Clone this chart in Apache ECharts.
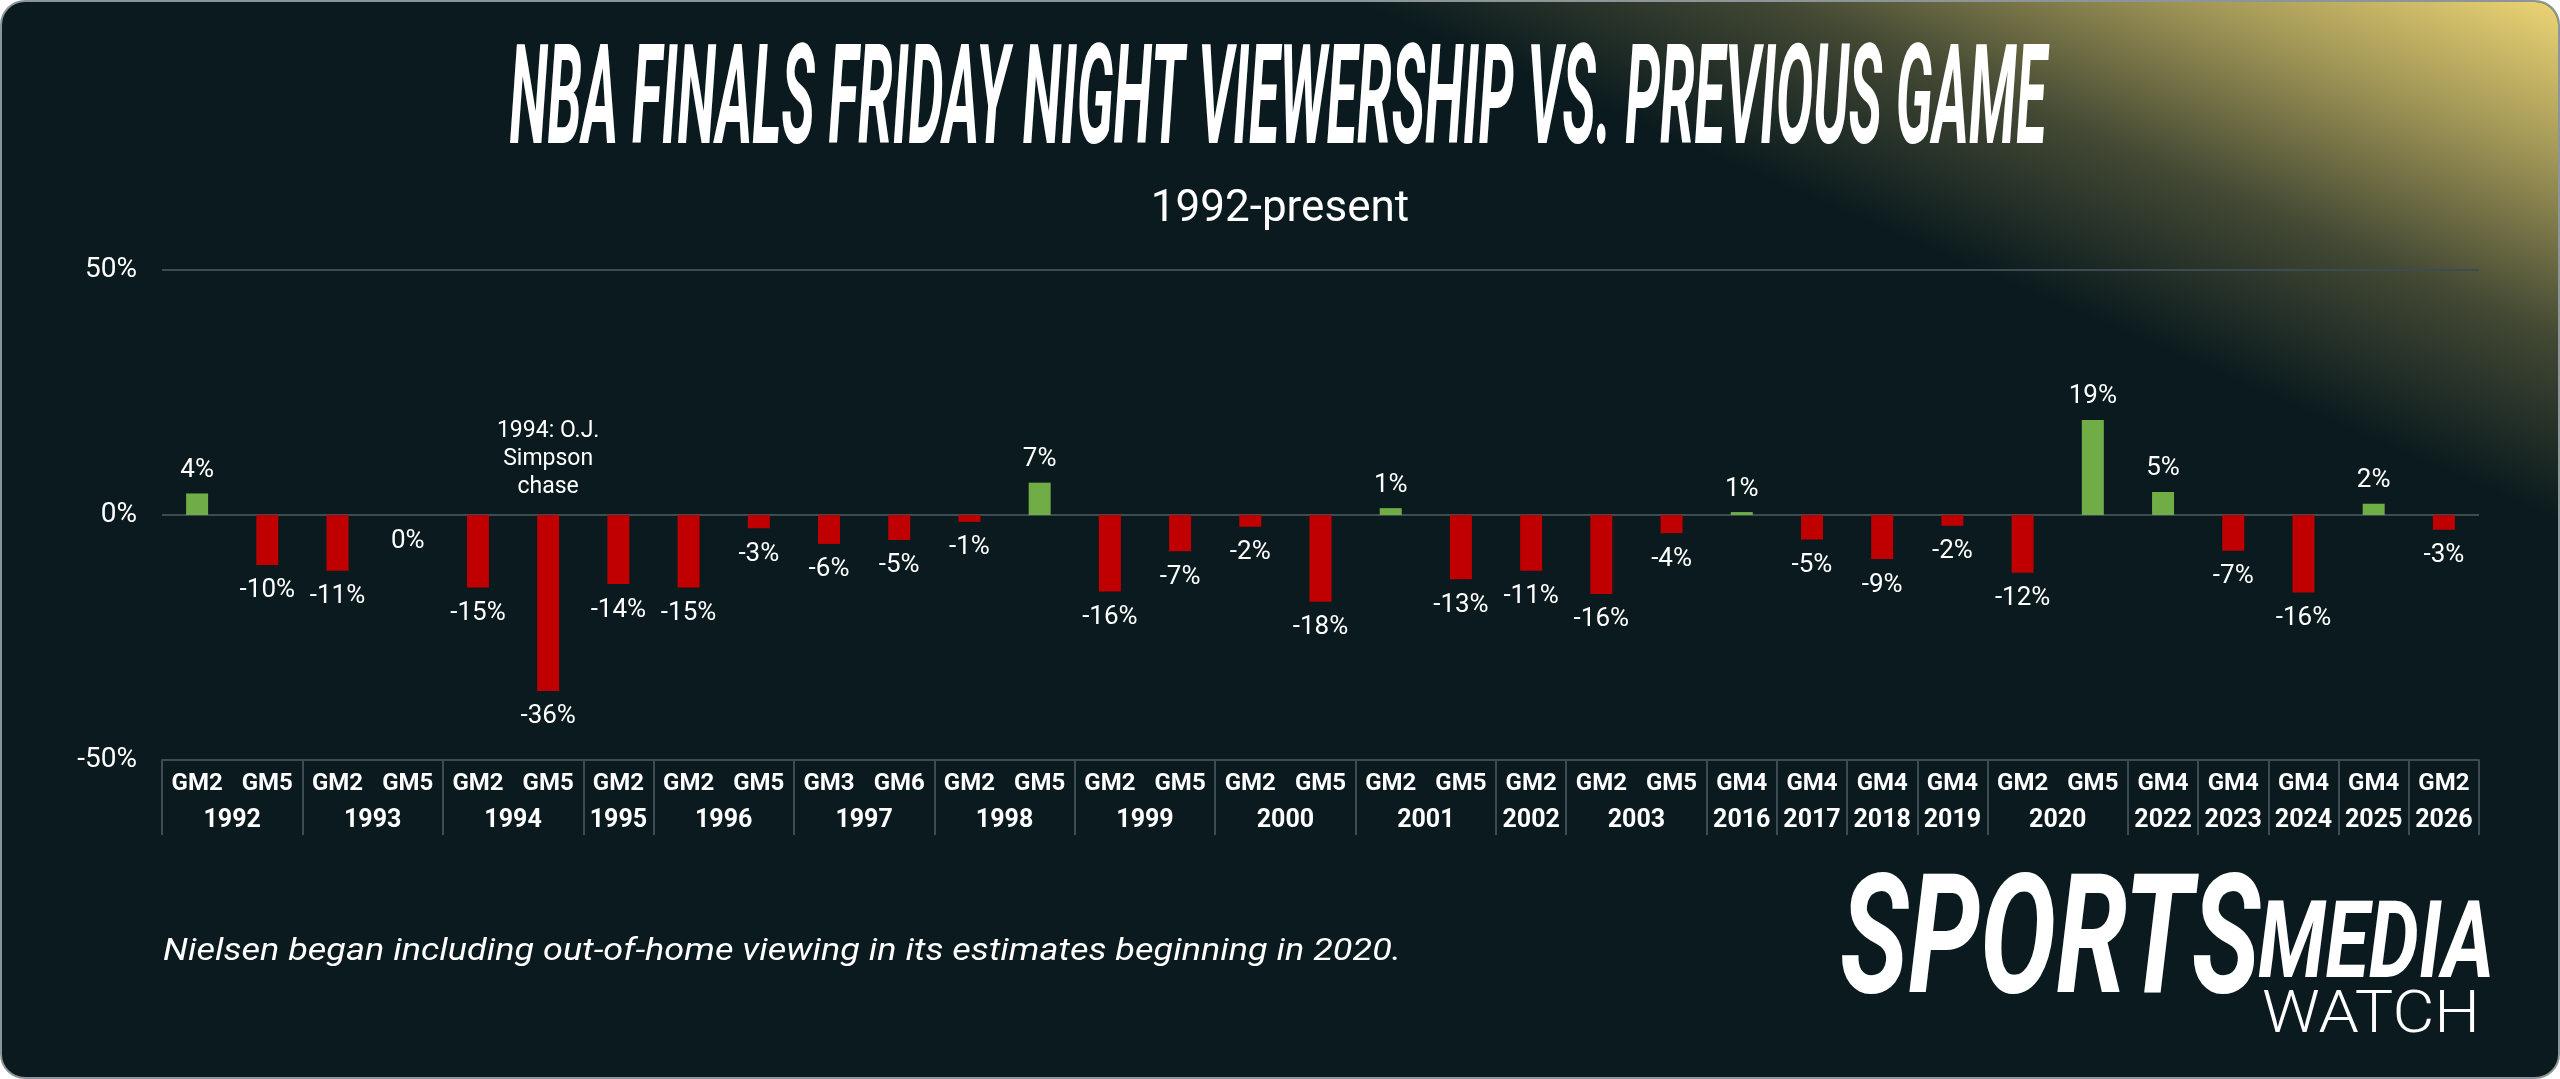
<!DOCTYPE html>
<html>
<head>
<meta charset="utf-8">
<script src="https://cdn.jsdelivr.net/npm/echarts@6/dist/echarts.min.js"></script>
<style>
  html, body { margin: 0; padding: 0; background: #ffffff; }
  #chart { width: 2560px; height: 1079px; }
</style>
</head>
<body>
<div id="chart"></div>
<script>
// finals year for each bar
const years = ['1992','1992','1993','1993','1994','1994','1995','1996','1996','1997','1997',
  '1998','1998','1999','1999','2000','2000','2001','2001','2002','2003','2003',
  '2016','2017','2018','2019','2020','2020','2022','2023','2024','2025','2026'];
// which game of the series was the friday game
const games = ['GM2','GM5','GM2','GM5','GM2','GM5','GM2','GM2','GM5','GM3','GM6',
  'GM2','GM5','GM2','GM5','GM2','GM5','GM2','GM5','GM2','GM2','GM5',
  'GM4','GM4','GM4','GM4','GM2','GM5','GM4','GM4','GM4','GM4','GM2'];
// % change in viewers vs previous game
const changes = [4.4,-10.2,-11.4,0,-14.8,-35.9,-14.1,-14.8,-2.7,-5.9,-5.1,
  -1.4,6.6,-15.6,-7.4,-2.4,-17.7,1.4,-13.1,-11.4,-16.1,-3.7,
  0.6,-5.0,-9.0,-2.2,-11.8,19.4,4.7,-7.3,-15.8,2.3,-3.0];
const yTicks = [-50, 0, 50];
const noteText = '1994: O.J.\nSimpson\nchase';

const GREEN = '#70ad47', RED = '#c00000', LINE = '#3d4c51', BG = '#0a1a1e';

const cats = years.map((y, i) => y + ' ' + games[i]);

// centre of every year group, in half-category units for the year axis
const yearAt = {};
let start = 0;
for (let i = 1; i <= years.length; i++) {
  if (i === years.length || years[i] !== years[i - 1]) {
    yearAt[String((start + i) / 2)] = years[start];
    start = i;
  }
}

// squeeze text into the width it takes in the original
const ctx = document.createElement('canvas').getContext('2d');
function fit(text, font, width) {
  ctx.font = font;
  return width / ctx.measureText(text).width;
}

const titleText = 'NBA FINALS FRIDAY NIGHT VIEWERSHIP VS. PREVIOUS GAME';
const titleFont = 'italic bold 138px Roboto';
const footText = 'Nielsen began including out-of-home viewing in its estimates beginning in 2020.';
const footFont = 'italic 31px Roboto';
const spFont = 'italic bold 166px Roboto';
const mdFont = 'italic bold 108px Roboto';
const wtFont = '300 59px Roboto';

const chart = echarts.init(document.getElementById('chart'));

const option = {
  animation: false,
  textStyle: { fontFamily: 'Roboto' },
  graphic: [
    {
      type: 'rect', z: -10, silent: true,
      shape: { x: 1, y: 1, width: 2558, height: 1077, r: 24 },
      style: { fill: BG, stroke: '#8c9699', lineWidth: 2 }
    },
    {
      type: 'rect', z: -9, silent: true,
      shape: { x: 2, y: 2, width: 2556, height: 1075, r: 23 },
      style: {
        fill: {
          type: 'linear', global: true,
          x: 2371, y: 439, x2: 2560, y2: 0,
          colorStops: [
            { offset: 0, color: 'rgba(236,212,115,0)' },
            { offset: 0.35, color: 'rgba(236,212,115,0.25)' },
            { offset: 0.7, color: 'rgba(236,212,115,0.68)' },
            { offset: 1, color: 'rgba(238,214,117,1)' }
          ]
        }
      }
    },
    {
      type: 'text', x: 1278, y: 108, scaleX: fit(titleText, titleFont, 1537),
      style: { text: titleText, font: titleFont, fill: '#ffffff', align: 'center', verticalAlign: 'middle' }
    },
    {
      type: 'text', x: 1280, y: 210,
      style: { text: '1992-present', font: '44px Roboto', fill: '#ffffff', align: 'center', verticalAlign: 'middle' }
    },
    {
      type: 'text', x: 163, y: 952, scaleX: fit(footText, footFont, 1238),
      style: { text: footText, font: footFont, fill: '#ffffff', align: 'left', verticalAlign: 'middle' }
    },
    {
      type: 'text', x: 1840, y: 950, scaleX: fit('SPORTS', spFont, 420),
      style: { text: 'SPORTS', font: spFont, fill: '#ffffff', align: 'left', verticalAlign: 'middle' }
    },
    {
      type: 'text', x: 2258, y: 950, scaleX: fit('MEDIA', mdFont, 236),
      style: { text: 'MEDIA', font: mdFont, fill: '#ffffff', align: 'left', verticalAlign: 'middle' }
    },
    {
      type: 'text', x: 2262, y: 1017, scaleX: fit('WATCH', wtFont, 218),
      style: { text: 'WATCH', font: wtFont, fill: '#ffffff', align: 'left', verticalAlign: 'middle' }
    }
  ],
  grid: { left: 162, right: 81, top: 270, bottom: 319 },
  xAxis: [
    {
      type: 'category',
      data: cats,
      axisLine: { show: true, onZero: false, lineStyle: { color: LINE, width: 2 } },
      axisTick: {
        show: true, length: 75, inside: false,
        interval: (idx) => idx === 0 || years[idx] !== years[idx - 1],
        lineStyle: { color: LINE, width: 2 }
      },
      axisLabel: {
        interval: 0, margin: 12, color: '#ffffff', fontSize: 24, fontWeight: 'bold',
        formatter: (v) => v.split(' ')[1]
      }
    },
    {
      type: 'value', position: 'bottom', min: 0, max: years.length, interval: 0.5,
      axisLine: { show: false }, axisTick: { show: false }, splitLine: { show: false },
      axisLabel: {
        margin: 48, color: '#ffffff', fontSize: 25, fontWeight: 'bold',
        showMinLabel: true, showMaxLabel: true,
        formatter: (v) => yearAt[String(v)] || ''
      }
    }
  ],
  yAxis: {
    type: 'value', min: yTicks[0], max: yTicks[yTicks.length - 1], interval: 50,
    axisLine: { show: false }, axisTick: { show: false },
    splitLine: { show: true, lineStyle: { color: LINE, width: 2 } },
    axisLabel: { margin: 25, color: '#ffffff', fontSize: 28, formatter: '{value}%' }
  },
  series: [
    {
      type: 'bar',
      barWidth: 22,
      data: changes.map((v) => ({
        value: v,
        itemStyle: { color: v > 0 ? GREEN : RED },
        label: { position: v > 0 ? 'top' : 'bottom', distance: v > 0 ? 10 : 13 }
      })),
      label: {
        show: true, color: '#ffffff', fontSize: 26,
        formatter: (p) => Math.round(p.value) + '%'
      },
      markPoint: {
        symbol: 'circle', symbolSize: 0, silent: true,
        data: [{
          coord: ['1994 GM5', 0],
          label: {
            show: true, position: 'top', distance: 14, formatter: noteText,
            color: '#ffffff', fontSize: 23, lineHeight: 28, align: 'center'
          }
        }]
      }
    }
  ]
};

chart.setOption(option);
</script>
</body>
</html>
